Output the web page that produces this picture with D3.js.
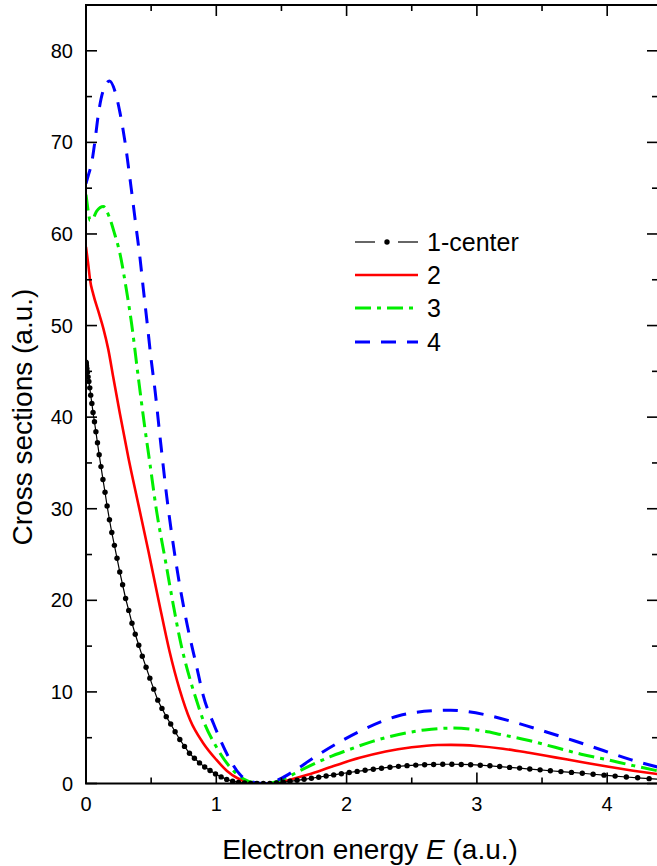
<!DOCTYPE html>
<html>
<head>
<meta charset="utf-8">
<script src="https://cdn.jsdelivr.net/npm/d3@7"></script>
<style>
  body { margin: 0; background: #fff; }
  text { font-family: "Liberation Sans", Arial, sans-serif; fill: #000; }
</style>
</head>
<body>
<div id="chart"></div>
<script>
// data
const blackE = [0, 0.0005, 0.002, 0.004, 0.007, 0.011, 0.016, 0.022, 0.029, 0.036,
  0.045, 0.054, 0.065, 0.076, 0.088, 0.101, 0.115, 0.130, 0.146, 0.162,
  0.180, 0.198, 0.218, 0.238, 0.259, 0.281, 0.304, 0.328, 0.353, 0.378,
  0.405, 0.432, 0.461, 0.490, 0.520, 0.551, 0.583, 0.616, 0.650, 0.684,
  0.720, 0.756, 0.794, 0.832, 0.871, 0.911, 0.952, 0.994, 1.037, 1.080,
  1.125, 1.170, 1.217, 1.264, 1.312, 1.361, 1.411, 1.462, 1.514, 1.566,
  1.620, 1.674, 1.730, 1.786, 1.843, 1.901, 1.960, 2.020, 2.081, 2.142,
  2.205, 2.268, 2.333, 2.398, 2.464, 2.531, 2.599, 2.668, 2.738, 2.808,
  2.880, 2.952, 3.026, 3.100, 3.175, 3.251, 3.328, 3.406, 3.485, 3.564,
  3.645, 3.726, 3.809, 3.892, 3.976, 4.061, 4.147, 4.234, 4.322, 4.410];
const blackS = [46.0, 45.95, 45.8, 45.6, 45.3, 44.9, 44.4, 43.9, 43.2, 42.4,
  41.5, 40.5, 39.5, 38.4, 37.2, 35.9, 34.6, 33.2, 31.8, 30.3,
  28.8, 27.4, 26.0, 24.6, 23.1, 21.7, 20.2, 18.9, 17.5, 16.3,
  15.1, 13.9, 12.7, 11.5, 10.3, 9.1, 8.2, 7.3, 6.5, 5.65,
  4.8, 4.05, 3.3, 2.75, 2.25, 1.8, 1.42, 1.05, 0.72, 0.45,
  0.25, 0.12, 0.05, 0.015, 0.002, 0, 0.01, 0.05, 0.13, 0.24,
  0.35, 0.46, 0.57, 0.69, 0.82, 0.94, 1.07, 1.2, 1.32, 1.44,
  1.56, 1.67, 1.78, 1.87, 1.95, 2.01, 2.05, 2.08, 2.1, 2.1,
  2.08, 2.05, 2.0, 1.93, 1.85, 1.76, 1.68, 1.58, 1.49, 1.39,
  1.3, 1.21, 1.12, 1.01, 0.91, 0.81, 0.71, 0.62, 0.53, 0.45];

const redE = [0, 0.018, 0.031, 0.056, 0.094, 0.133, 0.171, 0.21, 0.26, 0.325, 0.40, 0.48, 0.56, 0.64, 0.72,
  0.80, 0.90, 1.0, 1.08, 1.16, 1.23, 1.30, 1.38, 1.46, 1.55, 1.7, 1.9, 2.1, 2.3, 2.5, 2.7, 2.8,
  3.0, 3.2, 3.4, 3.6, 3.8, 4.0, 4.2, 4.4];
const redS = [58.6, 56.6, 55.0, 53.4, 51.6, 49.7, 47.4, 44.3, 40.4, 35.6, 30.6, 25.3, 19.8, 14.5, 10.2,
  6.9, 4.4, 2.6, 1.4, 0.6, 0.17, 0.02, 0, 0.08, 0.35, 0.95, 1.9, 2.8, 3.5, 3.95, 4.2, 4.22,
  4.1, 3.8, 3.35, 2.85, 2.35, 1.85, 1.4, 1.0];

const greenE = [0, 0.01, 0.02, 0.031, 0.05, 0.082, 0.133, 0.18, 0.22, 0.26, 0.31, 0.35, 0.40, 0.45, 0.49,
  0.54, 0.61, 0.67, 0.72, 0.80, 0.85, 0.90, 1.0, 1.105, 1.21, 1.30, 1.38, 1.49, 1.67, 1.87, 2.0,
  2.2, 2.4, 2.6, 2.8, 3.0, 3.2, 3.4, 3.6, 3.8, 4.0, 4.2, 4.4];
const greenS = [64.3, 63.2, 62.2, 61.5, 61.6, 62.5, 63.0, 61.8, 60.0, 57.9, 53.9, 50.2, 44.5, 39.0, 35.0,
  29.9, 24.3, 19.5, 15.8, 11.3, 9.0, 6.9, 4.0, 1.8, 0.5, 0.05, 0, 0.35, 1.6, 2.9, 3.6,
  4.6, 5.35, 5.85, 6.05, 5.85, 5.3, 4.7, 3.95, 3.2, 2.6, 1.95, 1.35];

const blueE = [0, 0.02, 0.044, 0.07, 0.094, 0.133, 0.18, 0.23, 0.26, 0.30, 0.345, 0.384, 0.415, 0.44, 0.47,
  0.50, 0.53, 0.57, 0.62, 0.68, 0.76, 0.85, 0.90, 0.98, 1.03, 1.105, 1.18, 1.285, 1.38, 1.49, 1.6,
  1.745, 1.93, 2.13, 2.4, 2.67, 2.8, 2.9, 3.1, 3.31, 3.54, 3.74, 3.97, 4.18, 4.4];
const blueS = [65.5, 66.5, 67.8, 70.3, 73.0, 75.7, 76.7, 75.2, 73.3, 70.0, 65.2, 60.8, 57.3, 54.0, 50.2,
  46.3, 42.9, 37.6, 31.3, 25.1, 18.5, 12.7, 9.6, 6.5, 4.8, 2.6, 1.0, 0.15, 0, 0.5, 1.4,
  2.8, 4.4, 5.9, 7.4, 7.95, 8.0, 7.9, 7.4, 6.6, 5.6, 4.7, 3.6, 2.6, 1.75];

const seriesNames = ["1-center", "2", "3", "4"];
const xTicks = [0, 1, 2, 3, 4];
const yTicks = [0, 10, 20, 30, 40, 50, 60, 70, 80];

// layout
const W = 657, H = 866;
const m = { left: 86, right: 658, top: 5, bottom: 783.5 };

const svg = d3.select("#chart").append("svg").attr("width", W).attr("height", H);

const x = d3.scaleLinear().domain([0, 4.39]).range([m.left, m.right]);
const y = d3.scaleLinear().domain([0, 85]).range([m.bottom, m.top]);

svg.append("clipPath").attr("id", "plot-clip")
  .append("rect").attr("x", m.left).attr("y", m.top).attr("width", m.right - m.left).attr("height", m.bottom - m.top);

const plot = svg.append("g").attr("clip-path", "url(#plot-clip)");

const zip = (es, ss) => es.map((e, i) => [e, ss[i]]);
const smooth = d3.line().x(d => x(d[0])).y(d => y(d[1])).curve(d3.curveMonotoneX);
const straight = d3.line().x(d => x(d[0])).y(d => y(d[1]));

const styles = [
  { color: "#000", width: 1.2, dash: null },
  { color: "#ff0000", width: 2.6, dash: null },
  { color: "#00ee00", width: 3, dash: "16,6,4,6" },
  { color: "#0000ff", width: 3, dash: "15,11" }
];

// curves
const curves = [zip(redE, redS), zip(greenE, greenS), zip(blueE, blueS)];
curves.forEach((c, i) => {
  plot.append("path").attr("d", smooth(c))
    .attr("fill", "none")
    .attr("stroke", styles[i + 1].color)
    .attr("stroke-width", styles[i + 1].width)
    .attr("stroke-dasharray", styles[i + 1].dash);
});

const black = zip(blackE, blackS);
plot.append("path").attr("d", straight(black))
  .attr("fill", "none").attr("stroke", "#000").attr("stroke-width", 1.2);
plot.selectAll("circle.pt").data(black).enter().append("circle")
  .attr("class", "pt")
  .attr("cx", d => x(d[0])).attr("cy", d => y(d[1])).attr("r", 2.7)
  .attr("fill", "#000");

// frame + ticks
svg.append("rect").attr("x", m.left).attr("y", m.top).attr("width", m.right - m.left).attr("height", m.bottom - m.top)
  .attr("fill", "none").attr("stroke", "#000").attr("stroke-width", 2);

const xMinor = d3.range(0.5, 4.39, 1);
const yMinor = d3.range(5, 85, 10);
const ticks = svg.append("g").attr("stroke", "#000").attr("stroke-width", 1.6);

xTicks.forEach(v => {
  ticks.append("line").attr("x1", x(v)).attr("x2", x(v)).attr("y1", m.bottom).attr("y2", m.bottom - 11);
  ticks.append("line").attr("x1", x(v)).attr("x2", x(v)).attr("y1", m.top).attr("y2", m.top + 11);
});
xMinor.forEach(v => {
  ticks.append("line").attr("x1", x(v)).attr("x2", x(v)).attr("y1", m.bottom).attr("y2", m.bottom - 6);
  ticks.append("line").attr("x1", x(v)).attr("x2", x(v)).attr("y1", m.top).attr("y2", m.top + 6);
});
yTicks.forEach(v => {
  ticks.append("line").attr("x1", m.left).attr("x2", m.left + 11).attr("y1", y(v)).attr("y2", y(v));
  ticks.append("line").attr("x1", m.right).attr("x2", m.right - 11).attr("y1", y(v)).attr("y2", y(v));
});
yMinor.forEach(v => {
  ticks.append("line").attr("x1", m.left).attr("x2", m.left + 6).attr("y1", y(v)).attr("y2", y(v));
  ticks.append("line").attr("x1", m.right).attr("x2", m.right - 6).attr("y1", y(v)).attr("y2", y(v));
});

// tick labels
svg.selectAll("text.xt").data(xTicks).enter().append("text")
  .attr("class", "xt")
  .attr("x", d => x(d)).attr("y", 811)
  .attr("text-anchor", "middle").attr("font-size", 20)
  .text(d => d);

svg.selectAll("text.yt").data(yTicks).enter().append("text")
  .attr("class", "yt")
  .attr("x", m.left - 13).attr("y", d => y(d) + 7)
  .attr("text-anchor", "end").attr("font-size", 20)
  .text(d => d);

// axis titles
const xt = svg.append("text")
  .attr("x", 370).attr("y", 859)
  .attr("text-anchor", "middle").attr("font-size", 28);
xt.append("tspan").text("Electron energy ");
xt.append("tspan").attr("font-style", "italic").text("E");
xt.append("tspan").text(" (a.u.)");

svg.append("text")
  .attr("transform", "translate(32,417) rotate(-90)")
  .attr("text-anchor", "middle").attr("font-size", 28)
  .text("Cross sections (a.u.)");

// legend
const legendY = [242, 275, 308, 342];
const lg = svg.append("g");
seriesNames.forEach((name, i) => {
  const ly = legendY[i];
  const s = styles[i];
  if (i === 0) {
    lg.append("line").attr("x1", 355).attr("x2", 375).attr("y1", ly).attr("y2", ly)
      .attr("stroke", "#000").attr("stroke-width", 1.2);
    lg.append("line").attr("x1", 398).attr("x2", 418).attr("y1", ly).attr("y2", ly)
      .attr("stroke", "#000").attr("stroke-width", 1.2);
    lg.append("circle").attr("cx", 387).attr("cy", ly).attr("r", 2.7).attr("fill", "#000");
  } else {
    lg.append("line").attr("x1", 355).attr("x2", 418).attr("y1", ly).attr("y2", ly)
      .attr("stroke", s.color).attr("stroke-width", s.width)
      .attr("stroke-dasharray", s.dash);
  }
  lg.append("text").attr("x", 427).attr("y", ly + 9)
    .attr("font-size", 25).text(name);
});
</script>
</body>
</html>
